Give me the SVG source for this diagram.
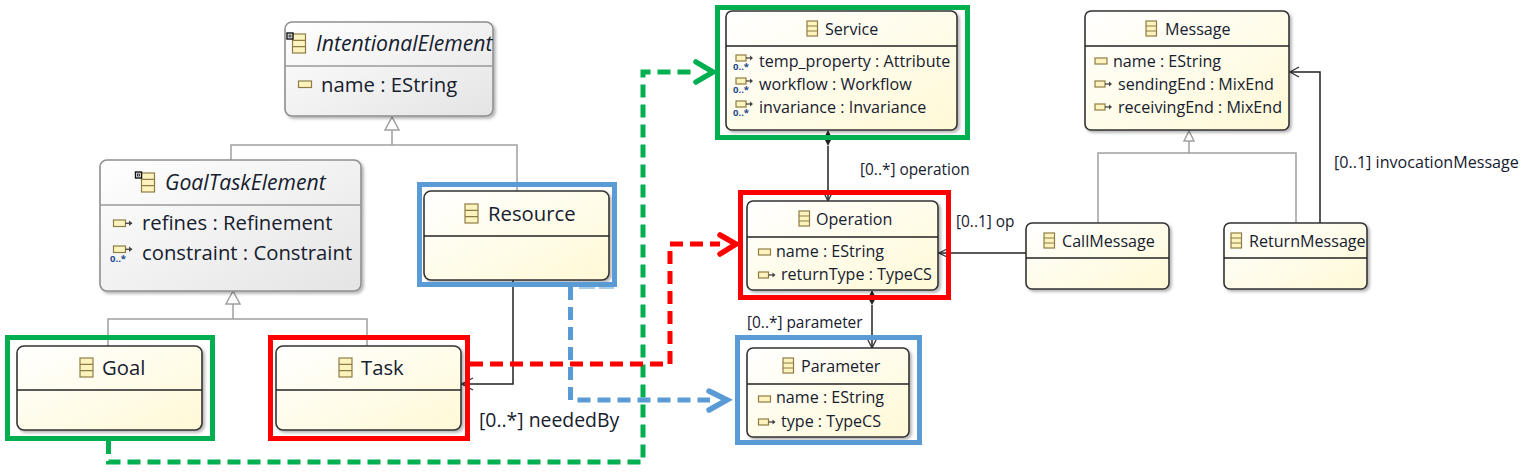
<svg xmlns="http://www.w3.org/2000/svg" width="1537" height="472" viewBox="0 0 1537 472">
<style>
text{font-family:"Open Sans","Noto Sans","Liberation Sans",sans-serif;fill:#16202e}
.big{font-size:20.3px}
.ital{font-size:21.2px;font-style:italic}
.mid{font-size:16.1px}
.lbl{font-size:15.4px}
.box{stroke:#333;stroke-width:1.6;fill:url(#yel);filter:url(#sh)}
.abs{stroke:#8f8f8f;stroke-width:1.6;fill:url(#gry);filter:url(#sh)}
.sep{stroke:#222;stroke-width:1.4}
.sepg{stroke:#9a9a9a;stroke-width:1.4}
.gen{fill:none;stroke:#a0a0a0;stroke-width:1.5}
.tri{fill:#fff;stroke:#a0a0a0;stroke-width:1.5}
.ref{fill:none;stroke:#222;stroke-width:1.5}
.open{fill:none;stroke:#333;stroke-width:1.3}
.dia{fill:#222}
.fg{fill:none;stroke:#00b050;stroke-width:5}
.fr{fill:none;stroke:#ff0000;stroke-width:5}
.fb{fill:none;stroke:#5b9bd5;stroke-width:5}
.dg,.dr,.db{fill:none;stroke-width:5;stroke-dasharray:13 7}
.dg{stroke:#00b050}.dr{stroke:#ff0000}.db{stroke:#5b9bd5}
.hg,.hr,.hb{fill:none;stroke-width:5.500;stroke-linecap:round;stroke-linejoin:miter}
.hg{stroke:#00b050}.hr{stroke:#ff0000}.hb{stroke:#5b9bd5}
.ic{fill:#fdf3bf;stroke:#8f7c45;stroke-width:1.2}
.star{font-size:9.500px;fill:#1f4a8f;font-weight:700}
</style>
<defs>
<linearGradient id="yel" x1="0" y1="0" x2="1" y2="1"><stop offset="0" stop-color="#ffffff"/><stop offset="1" stop-color="#fff9d6"/></linearGradient>
<linearGradient id="gry" x1="0" y1="0" x2="1" y2="1"><stop offset="0" stop-color="#ffffff"/><stop offset="1" stop-color="#e4e4e4"/></linearGradient>
<filter id="sh" x="-5%" y="-5%" width="112%" height="115%"><feDropShadow dx="2" dy="2" stdDeviation="1.5" flood-color="#000" flood-opacity="0.3"/></filter>
<g id="cls"><rect x="0" y="0" width="13" height="19" class="ic"/><path d="M0 6.300H13M0 12.600H13" class="ic"/></g>
<g id="clsS"><rect x="0" y="0" width="10.500" height="15" class="ic"/><path d="M0 5H10.500M0 10H10.500" class="ic"/></g>
<g id="attr"><rect x="0" y="0" width="12" height="6" class="ic"/></g>
<g id="attrB"><rect x="0" y="0" width="13" height="6.500" class="ic"/></g>
<g id="rf"><rect x="0" y="0" width="10" height="6" class="ic"/><path d="M10 3H16" stroke="#444" stroke-width="1.300"/><path d="M14 0.500L17 3L14 5.500Z" fill="#444"/></g>
<g id="rfB"><rect x="0" y="0" width="12" height="6.500" class="ic"/><path d="M12 3.300H18" stroke="#444" stroke-width="1.300"/><path d="M15.500 0.500L19 3.300L15.500 6Z" fill="#444"/></g>
<g id="abm"><rect x="0" y="0" width="6" height="6" fill="#fff" stroke="#111" stroke-width="1.400"/><rect x="2" y="2" width="2" height="2" fill="#fff" stroke="#111" stroke-width="0.800"/></g>
</defs>

<g id="connectors">
<path class="gen" d="M392 130V145M231 160V145H517V191"/>
<path class="tri" d="M392 117L385 130H399Z"/>
<path class="gen" d="M233 304V319M108 346V319H367V346"/>
<path class="tri" d="M233 291L226 304H240Z"/>
<path class="gen" d="M1189 141V153M1098 223V153H1296V223"/>
<path class="tri" d="M1189 131L1184 141H1194Z"/>
<path class="ref" d="M513 280V384H461"/>
<path class="open" d="M473 378L461.500 384L473 390"/>
<path class="ref" d="M828 146V201"/>
<path class="dia" d="M828 130L832 138L828 146L824 138Z"/>
<path class="open" d="M823 191L828 201L833 191"/>
<path class="ref" d="M872 305V348"/>
<path class="dia" d="M872 290L876 298L872 305L868 298Z"/>
<path class="open" d="M867 338L872 348L877 338"/>
<path class="ref" d="M1026 253H938"/>
<path class="open" d="M947 249L939 253L947 257"/>
<path class="ref" d="M1320 223V72H1290"/>
<path class="open" d="M1299 67L1290 72L1299 77"/>
<text class="lbl" x="860" y="175">[0..*] operation</text>
<text class="lbl" x="747" y="328">[0..*] parameter</text>
<text class="lbl" x="956" y="227">[0..1] op</text>
<text class="mid" x="1334" y="168">[0..1] invocationMessage</text>
<text x="479" y="427" style="font-size:19.400px">[0..*] neededBy</text>
</g>

<g id="IntentionalElement">
<rect class="abs" x="285" y="22" width="208" height="94" rx="7"/>
<line class="sepg" x1="285" y1="66" x2="493" y2="66"/>
<use href="#cls" x="292.500" y="34"/><use href="#abm" x="287" y="33"/>
<text class="ital" x="316" y="51">IntentionalElement</text>
<use href="#attrB" x="298.500" y="81"/>
<text class="big" x="321" y="92">name : EString</text>
</g>
<g id="GoalTaskElement">
<rect class="abs" x="100" y="160" width="261" height="131" rx="7"/>
<line class="sepg" x1="100" y1="205" x2="361" y2="205"/>
<use href="#cls" x="141.500" y="173"/><use href="#abm" x="135.500" y="172"/>
<text class="ital" x="165" y="190">GoalTaskElement</text>
<use href="#rfB" x="113.500" y="220"/>
<text class="big" x="142" y="230">refines : Refinement</text>
<use href="#rfB" x="113.500" y="246"/><text class="star" x="110" y="262">0..*</text>
<text class="big" x="142" y="260">constraint : Constraint</text>
</g>
<g id="Resource">
<rect class="box" x="424" y="191" width="185" height="89" rx="7"/>
<line class="sep" x1="424" y1="236" x2="609" y2="236"/>
<use href="#cls" x="465" y="204"/>
<text class="big" x="488" y="221">Resource</text>
<rect class="fb" x="419.500" y="184.500" width="195" height="100"/>
</g>
<g id="Goal">
<rect class="box" x="17" y="346" width="185" height="84" rx="7"/>
<line class="sep" x1="17" y1="390" x2="202" y2="390"/>
<use href="#cls" x="80" y="358"/>
<text class="big" x="102" y="375">Goal</text>
<rect class="fg" x="7.500" y="337.500" width="205" height="101"/>
</g>
<g id="Task">
<rect class="box" x="276" y="346" width="185" height="84" rx="7"/>
<line class="sep" x1="276" y1="390" x2="461" y2="390"/>
<use href="#cls" x="339" y="358"/>
<text class="big" x="361" y="375">Task</text>
<rect class="fr" x="270.500" y="337.500" width="197" height="101"/>
</g>
<g id="Service">
<rect class="box" x="726" y="11" width="231" height="119" rx="6"/>
<line class="sep" x1="726" y1="46" x2="957" y2="46"/>
<use href="#clsS" x="807" y="21"/>
<text class="mid" x="825" y="35">Service</text>
<use href="#rf" x="736" y="55"/><text class="star" x="733" y="70">0..*</text>
<text class="mid" x="759" y="67">temp_property : Attribute</text>
<use href="#rf" x="736" y="78"/><text class="star" x="733" y="93">0..*</text>
<text class="mid" x="759" y="90">workflow : Workflow</text>
<use href="#rf" x="736" y="101"/><text class="star" x="733" y="116">0..*</text>
<text class="mid" x="759" y="113">invariance : Invariance</text>
<rect class="fg" x="717.500" y="7.500" width="250" height="130"/>
</g>
<g id="Operation">
<rect class="box" x="747" y="201" width="191" height="89" rx="6"/>
<line class="sep" x1="747" y1="237" x2="938" y2="237"/>
<use href="#clsS" x="799" y="211"/>
<text class="mid" x="816" y="225">Operation</text>
<use href="#attr" x="758.500" y="249"/>
<text class="mid" x="776" y="257">name : EString</text>
<use href="#rf" x="758.500" y="272"/>
<text class="mid" x="781" y="280">returnType : TypeCS</text>
<rect class="fr" x="740.500" y="192.500" width="208" height="105"/>
</g>
<g id="Parameter">
<rect class="box" x="747" y="348" width="162" height="89" rx="6"/>
<line class="sep" x1="747" y1="384" x2="909" y2="384"/>
<use href="#clsS" x="783" y="358"/>
<text class="mid" x="801" y="372">Parameter</text>
<use href="#attr" x="758.500" y="396"/>
<text class="mid" x="776" y="403">name : EString</text>
<use href="#rf" x="758.500" y="419"/>
<text class="mid" x="781" y="427">type : TypeCS</text>
<rect class="fb" x="737.500" y="337.500" width="182" height="105"/>
</g>
<g id="Message">
<rect class="box" x="1085" y="11" width="204" height="119" rx="6"/>
<line class="sep" x1="1085" y1="46" x2="1289" y2="46"/>
<use href="#clsS" x="1146" y="21"/>
<text class="mid" x="1165" y="35">Message</text>
<use href="#attr" x="1095" y="58"/>
<text class="mid" x="1113" y="67">name : EString</text>
<use href="#rf" x="1095" y="81"/>
<text class="mid" x="1118" y="90">sendingEnd : MixEnd</text>
<use href="#rf" x="1095" y="104"/>
<text class="mid" x="1118" y="113">receivingEnd : MixEnd</text>
</g>
<g id="CallMessage">
<rect class="box" x="1026" y="223" width="143" height="66" rx="6"/>
<line class="sep" x1="1026" y1="258" x2="1169" y2="258"/>
<use href="#clsS" x="1044" y="233"/>
<text class="mid" x="1062" y="247">CallMessage</text>
</g>
<g id="ReturnMessage">
<rect class="box" x="1224" y="223" width="143" height="66" rx="6"/>
<line class="sep" x1="1224" y1="258" x2="1367" y2="258"/>
<use href="#clsS" x="1231" y="233"/>
<text class="mid" x="1249" y="247">ReturnMessage</text>
</g>
<g id="traces">
<path class="dg" d="M108.500 441V462H643V72H695"/>
<path class="hg" d="M696 62L713 72L696 82"/>
<path class="dr" d="M470 364H670V244H720"/>
<path class="hr" d="M720 235L736 244L720 254"/>
<path class="db" d="M570.500 287V400H710"/>
<path class="hb" d="M709 391L727 400L709 410"/>
<path d="M579 288H595M599 288H614" fill="none" stroke="#a8cbe8" stroke-width="2"/>
</g>
</svg>
